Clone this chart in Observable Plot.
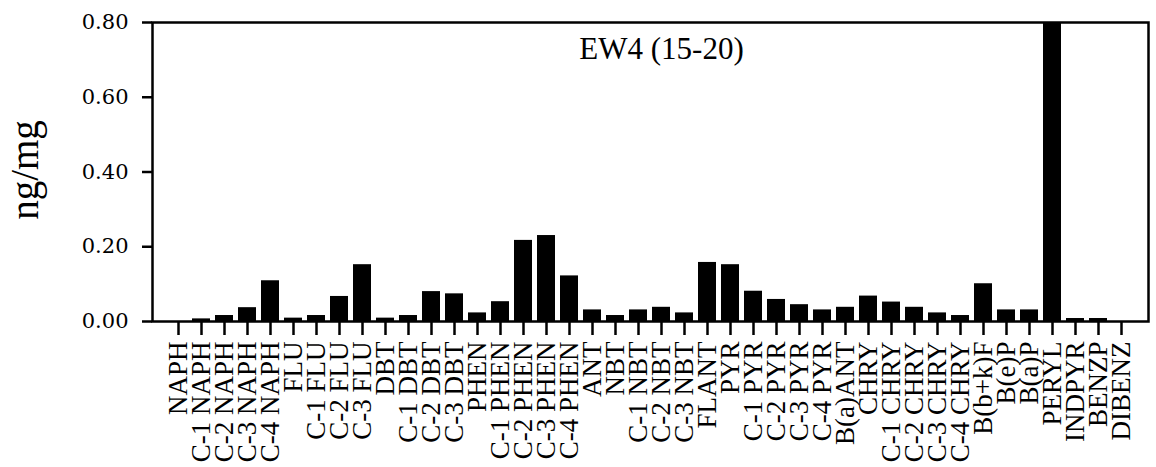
<!DOCTYPE html>
<html><head><meta charset="utf-8">
<script src="https://cdn.jsdelivr.net/npm/d3@7"></script>
<script src="https://cdn.jsdelivr.net/npm/@observablehq/plot@0.6"></script>
<style>html,body{margin:0;padding:0;background:#fff;} svg{display:block}</style>
</head><body><div id="chart"></div>
<script>
const compounds = ["NAPH","C-1 NAPH","C-2 NAPH","C-3 NAPH","C-4 NAPH",
  "FLU","C-1 FLU","C-2 FLU","C-3 FLU",
  "DBT","C-1 DBT","C-2 DBT","C-3 DBT",
  "PHEN","C-1 PHEN","C-2 PHEN","C-3 PHEN","C-4 PHEN",
  "ANT","NBT","C-1 NBT","C-2 NBT","C-3 NBT","FLANT",
  "PYR","C-1 PYR","C-2 PYR","C-3 PYR","C-4 PYR",
  "B(a)ANT","CHRY","C-1 CHRY","C-2 CHRY","C-3 CHRY","C-4 CHRY",
  "B(b+k)F","B(e)P","B(a)P","PERYL","INDPYR","BENZP","DIBENZ"];
const values = [0.000,0.007,0.016,0.037,0.109,
  0.009,0.016,0.067,0.152,
  0.009,0.016,0.080,0.074,
  0.023,0.053,0.217,0.230,0.122,
  0.031,0.016,0.031,0.038,0.023,0.158,
  0.152,0.081,0.059,0.045,0.031,
  0.038,0.068,0.052,0.038,0.023,0.016,
  0.101,0.031,0.031,0.80,0.008,0.008,0.000];
const yTicks = [0, 0.2, 0.4, 0.6, 0.8];
const title = "EW4 (15-20)";
const yLabel = "ng/mg";

const data = compounds.map((c, i) => ({compound: c, value: values[i]}));

const chart = Plot.plot({
  width: 1156, height: 467,
  marginLeft: 152, marginRight: 8, marginTop: 22, marginBottom: 146,
  style: {fontFamily: "'Liberation Serif', serif", background: "#fff", color: "#000"},
  x: {domain: compounds, padding: 0.2, label: null},
  y: {domain: [0, 0.8], label: null},
  marks: [
    Plot.barY(data, {x: "compound", y: "value", fill: "#000"}),
    Plot.frame({stroke: "#000", strokeWidth: 2.5}),
    Plot.axisX({tickRotate: -90, tickSize: 14, tickPadding: 6, fontSize: 27, strokeWidth: 2.5, label: null}),
    Plot.axisY({ticks: yTicks, tickFormat: ".2f", tickSize: 10, tickPadding: 14, fontSize: 21,
      fontFamily: "'DejaVu Serif', serif", strokeWidth: 2.5, label: null}),
    Plot.text([title], {frameAnchor: "top", lineAnchor: "top", dx: 11, dy: 14, fontSize: 31, text: d => d}),
    Plot.text([yLabel], {frameAnchor: "left", textAnchor: "middle", lineAnchor: "middle", rotate: -90, dx: -127, dy: -2, fontSize: 39, text: d => d})
  ]
});
document.getElementById("chart").appendChild(chart);
</script>
</body></html>
